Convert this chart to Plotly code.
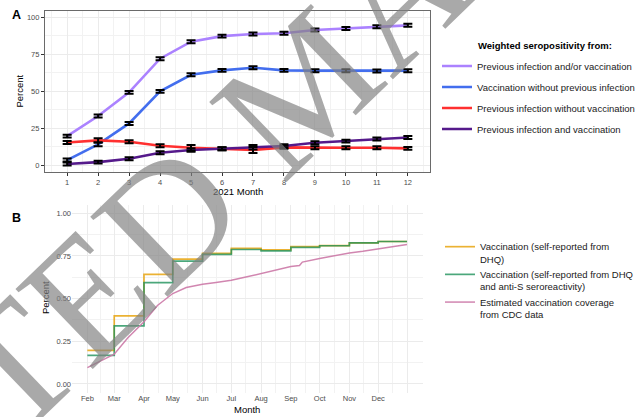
import plotly.graph_objects as go

W, H = 641, 417
FONT = "Liberation Sans, Arial, sans-serif"

# ---------------- Panel A data ----------------
months = list(range(1, 13))
month_ticks = [1, 2, 3, 4, 5, 6, 7, 8, 9, 10, 11, 12]
prev_inf_or_vacc = [19.6, 33.2, 49.2, 72.0, 83.5, 87.3, 88.7, 89.2, 91.4, 92.5, 93.6, 94.6]
vacc_without_inf = [3.4, 14.0, 28.2, 49.9, 61.1, 64.1, 65.9, 64.1, 63.9, 63.9, 63.7, 63.9]
inf_without_vacc = [15.3, 16.7, 15.8, 13.1, 11.7, 11.1, 10.2, 12.0, 11.7, 11.7, 11.7, 11.3]
inf_and_vacc = [0.7, 2.0, 4.3, 8.3, 10.2, 11.1, 12.0, 12.9, 15.1, 16.2, 17.6, 18.7]
ci_prev_inf_or_vacc = [1.0, 1.0, 1.0, 1.0, 1.0, 1.0, 1.0, 1.0, 1.0, 1.0, 1.0, 1.0]
ci_vacc_without_inf = [1.0, 1.2, 1.0, 1.0, 1.0, 1.0, 1.0, 1.0, 1.0, 1.0, 1.0, 1.0]
ci_inf_without_vacc = [1.0, 1.5, 1.0, 1.0, 1.8, 1.0, 2.0, 1.0, 1.0, 1.0, 1.0, 1.0]
ci_inf_and_vacc = [1.0, 1.0, 1.0, 1.0, 1.2, 1.0, 1.5, 1.2, 1.0, 1.0, 1.0, 1.0]
a_names = ["Previous infection and/or vaccination",
           "Vaccination without previous infection",
           "Previous infection without vaccination",
           "Previous infection and vaccination"]
a_colors = ["#AB82FF", "#436EEE", "#FF3030", "#551A8B"]
a_yticks = [0, 25, 50, 75, 100]

# ---------------- Panel B data ----------------
step_dates = ["2021-02-01", "2021-03-01", "2021-04-01", "2021-05-01", "2021-06-01",
              "2021-07-01", "2021-08-01", "2021-09-01", "2021-10-01", "2021-11-01",
              "2021-12-01", "2021-12-31"]
vacc_self = [0.197, 0.399, 0.642, 0.732, 0.765, 0.795, 0.786, 0.805, 0.811, 0.827, 0.835, 0.835]
vacc_self_sero = [0.168, 0.340, 0.594, 0.720, 0.760, 0.788, 0.780, 0.800, 0.810, 0.827, 0.835, 0.835]
cdc_dates = ["2021-02-01", "2021-02-15", "2021-03-01", "2021-03-15", "2021-04-01",
             "2021-04-15", "2021-05-01", "2021-05-15", "2021-06-01", "2021-06-15",
             "2021-07-01", "2021-07-15", "2021-08-01", "2021-08-15", "2021-09-01",
             "2021-09-10", "2021-09-13", "2021-10-01", "2021-10-15", "2021-11-01",
             "2021-11-15", "2021-12-01", "2021-12-08", "2021-12-31"]
cdc_coverage = [0.096, 0.134, 0.175, 0.27, 0.365, 0.46, 0.53, 0.565, 0.585, 0.595,
                0.608, 0.625, 0.646, 0.666, 0.688, 0.694, 0.714, 0.735, 0.75, 0.768,
                0.778, 0.792, 0.80, 0.818]
b_names = ["Vaccination (self-reported from<br>DHQ)",
           "Vaccination (self-reported from DHQ<br>and anti-S seroreactivity)",
           "Estimated vaccination coverage<br>from CDC data"]
b_colors = ["rgba(230,159,0,0.8)", "rgba(30,145,90,0.8)", "rgba(204,121,167,0.9)"]
b_tick_dates = ["2021-02-01", "2021-03-01", "2021-04-01", "2021-05-01", "2021-06-01",
                "2021-07-01", "2021-08-01", "2021-09-01", "2021-10-01", "2021-11-01",
                "2021-12-01", "2022-01-01"]
b_tick_labels = ["Feb", "Mar", "Apr", "May", "Jun", "Jul", "Aug", "Sep", "Oct", "Nov", "Dec", ""]
b_minor_dates = ["2021-01-16", "2021-02-15", "2021-03-16", "2021-04-16", "2021-05-16",
                 "2021-06-16", "2021-07-16", "2021-08-16", "2021-09-16", "2021-10-16",
                 "2021-11-16", "2021-12-16"]
b_yticks = [0, 0.25, 0.5, 0.75, 1.0]
b_yticklabels = ["0.00", "0.25", "0.50", "0.75", "1.00"]

fig = go.Figure()

a_series = [prev_inf_or_vacc, vacc_without_inf, inf_without_vacc, inf_and_vacc]
a_cis = [ci_prev_inf_or_vacc, ci_vacc_without_inf, ci_inf_without_vacc, ci_inf_and_vacc]
for i, (ys, name, col) in enumerate(zip(a_series, a_names, a_colors)):
    fig.add_trace(go.Scatter(x=months, y=ys, mode="lines", name=name,
                             line=dict(color=col, width=2.6),
                             legend="legend", legendgroup="a%d" % i,
                             xaxis="x", yaxis="y"))
for ys, ci in zip(a_series, a_cis):
    fig.add_trace(go.Scatter(x=months, y=ys, mode="markers", showlegend=False,
                             marker=dict(size=1, color="black", opacity=0),
                             error_y=dict(type="data", array=ci, color="black",
                                          thickness=2, width=4.5, visible=True),
                             hoverinfo="skip", xaxis="x", yaxis="y"))

b_series = [vacc_self, vacc_self_sero]
for i in range(2):
    fig.add_trace(go.Scatter(x=step_dates, y=b_series[i], mode="lines", name=b_names[i],
                             line=dict(color=b_colors[i], width=1.7, shape="hv"),
                             legend="legend2", legendgroup="b%d" % i,
                             xaxis="x2", yaxis="y2"))
fig.add_trace(go.Scatter(x=cdc_dates, y=cdc_coverage, mode="lines", name=b_names[2],
                         line=dict(color=b_colors[2], width=1.5),
                         legend="legend2", legendgroup="b2",
                         xaxis="x2", yaxis="y2"))

tickfont = dict(family=FONT, size=7.5, color="#4d4d4d")
grid = "#ebebeb"

fig.update_layout(
    width=W, height=H, margin=dict(l=0, r=0, t=0, b=0),
    paper_bgcolor="white", plot_bgcolor="white",
    font=dict(family=FONT, color="black"),
    xaxis=dict(domain=[45 / W, 430 / W], range=[0.285, 12.715], tickvals=month_ticks,
               ticks="outside", ticklen=3, tickcolor="#333333", tickfont=tickfont,
               showline=True, mirror=True, linecolor="#6a6a6a", linewidth=1.2,
               showgrid=True, gridcolor=grid, gridwidth=1, zeroline=False,
               minor=dict(dtick=0.5, tick0=0, showgrid=True, gridcolor="#f2f2f2", gridwidth=0.6),
               anchor="y"),
    yaxis=dict(domain=[1 - 172 / H, 1 - 11 / H], range=[-4.7, 104.3], tickvals=a_yticks,
               ticks="outside", ticklen=3, tickcolor="#333333", tickfont=tickfont,
               showline=True, mirror=True, linecolor="#6a6a6a", linewidth=1.2,
               showgrid=True, gridcolor=grid, gridwidth=1, zeroline=False,
               minor=dict(dtick=12.5, tick0=0, showgrid=True, gridcolor="#f2f2f2", gridwidth=0.6),
               anchor="x"),
    xaxis2=dict(domain=[72 / W, 423.3 / W], type="date", range=["2021-01-16", "2022-01-17"],
                tickmode="array", tickvals=b_tick_dates, ticktext=b_tick_labels,
                ticks="", tickfont=tickfont, showline=False,
                showgrid=True, gridcolor=grid, gridwidth=1, zeroline=False,
                minor=dict(tickmode="array", tickvals=b_minor_dates, showgrid=True,
                           gridcolor="#f2f2f2", gridwidth=0.6),
                anchor="y2"),
    yaxis2=dict(domain=[1 - 392.5 / H, 1 - 204.8 / H], range=[-0.05, 1.05],
                tickmode="array", tickvals=b_yticks, ticktext=b_yticklabels,
                ticks="", tickfont=tickfont, showline=False,
                showgrid=True, gridcolor=grid, gridwidth=1, zeroline=False,
                minor=dict(dtick=0.125, tick0=0, showgrid=True, gridcolor="#f2f2f2", gridwidth=0.6),
                anchor="x2"),
    legend=dict(x=437 / W, xanchor="left", y=1 - 51.5 / H, yanchor="top",
                font=dict(family=FONT, size=9.5, color="#1a1a1a"),
                bgcolor="rgba(0,0,0,0)", tracegroupgap=2, itemwidth=30),
    legend2=dict(x=440 / W, xanchor="left", y=1 - 234 / H, yanchor="top",
                 font=dict(family=FONT, size=9.5, color="#1a1a1a"),
                 bgcolor="rgba(0,0,0,0)", tracegroupgap=0, itemwidth=30, valign="top"),
    showlegend=True,
)

ann = [
    dict(text="<b>A</b>", x=16.7 / W, y=1 - 15.5 / H, font=dict(size=12.5)),
    dict(text="<b>B</b>", x=16.7 / W, y=1 - 217.5 / H, font=dict(size=12.5)),
    dict(text="Percent", x=19.5 / W, y=1 - 91 / H, textangle=-90, font=dict(size=9.5)),
    dict(text="2021 Month", x=237.5 / W, y=1 - 191 / H, font=dict(size=9.5)),
    dict(text="Percent", x=45 / W, y=1 - 298 / H, textangle=-90, font=dict(size=9.5)),
    dict(text="Month", x=247.5 / W, y=1 - 409 / H, font=dict(size=9.5)),
    dict(text="<b>Weighted seropositivity from:</b>", x=476 / W, y=1 - 45.7 / H,
         xanchor="left", font=dict(size=9.5)),
    dict(text="ACCEPTED MANUSCRIPT", x=306 / W, y=1 - 84 / H, textangle=-44,
         font=dict(family="Liberation Serif, Times New Roman, serif", size=170,
                   color="rgba(128,128,128,0.68)")),
]
for a in ann:
    a.setdefault("xanchor", "center")
    a["yanchor"] = "middle"
    a["xref"] = "paper"
    a["yref"] = "paper"
    a["showarrow"] = False
    f = a.get("font", {})
    f.setdefault("family", FONT)
    f.setdefault("color", "black")
    a["font"] = f
fig.update_layout(annotations=ann)

fig.write_html("out.html", config={"displayModeBar": False},
               post_script="document.body.style.margin='0px';document.body.style.overflow='hidden';")
